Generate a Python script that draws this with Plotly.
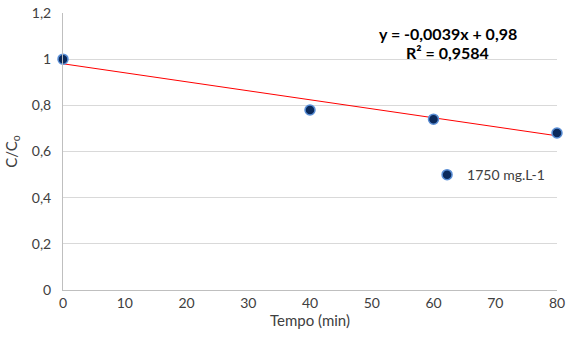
import plotly.graph_objects as go

tempo = [0, 40, 60, 80]
c_c0 = [1.0, 0.78, 0.74, 0.68]
series_name = "1750 mg.L-1"
slope = -0.0039
intercept = 0.98
eq_text = "y = -0,0039x + 0,98"
r2_text = "R² = 0,9584"
x_ticks = [0, 10, 20, 30, 40, 50, 60, 70, 80]
y_ticks = [0, 0.2, 0.4, 0.6, 0.8, 1.0, 1.2]
y_tick_labels = ["0", "0,2", "0,4", "0,6", "0,8", "1", "1,2"]

trend_x = [min(tempo), max(tempo)]
trend_y = [slope * x + intercept for x in trend_x]

fig = go.Figure()
fig.add_trace(go.Scatter(x=trend_x, y=trend_y, mode="lines",
                         line=dict(color="#ff0000", width=1), showlegend=False,
                         hoverinfo="skip", cliponaxis=False))
fig.add_trace(go.Scatter(x=tempo, y=c_c0, mode="markers", name=series_name,
                         cliponaxis=False,
                         marker=dict(color="#0b2a5c", size=10,
                                     line=dict(color="#5b8fd6", width=1.5))))

font = "Lato, 'Open Sans', sans-serif"
fig.update_layout(
    width=566, height=337,
    margin=dict(l=63, r=9, t=13, b=47, autoexpand=False),
    paper_bgcolor="white", plot_bgcolor="white",
    font=dict(family=font, size=14, color="#404040"),
    showlegend=True,
    legend=dict(x=0.737, y=0.415, xanchor="left", yanchor="middle",
                bgcolor="rgba(0,0,0,0)", font=dict(size=14, color="#404040"),
                itemwidth=30, tracegroupgap=0),
    xaxis=dict(range=[0, 80], tickvals=x_ticks, showgrid=False, automargin=False,
               showline=True, linecolor="#bfbfbf", linewidth=1, zeroline=False,
               ticks="", tickfont=dict(size=14, color="#404040"),
               title=dict(text="Tempo (min)", standoff=0,
                          font=dict(size=15, color="#404040"))),
    yaxis=dict(range=[0, 1.2], tickvals=y_ticks, ticktext=y_tick_labels, automargin=False,
               showgrid=True, gridcolor="#d9d9d9", gridwidth=1,
               showline=True, linecolor="#bfbfbf", linewidth=1, zeroline=False,
               ticks="", ticklabelstandoff=8, tickfont=dict(size=14, color="#404040"),
               title=dict(text="C/C<sub>o</sub>", standoff=10,
                          font=dict(size=15, color="#404040"))),
    annotations=[
        dict(x=0.779, y=1.112, xref="paper", yref="y", showarrow=False,
             text="<b>" + eq_text + "</b>", font=dict(size=16, color="#000000"),
             xanchor="center"),
        dict(x=0.779, y=1.03, xref="paper", yref="y", showarrow=False,
             text="<b>" + r2_text + "</b>", font=dict(size=16, color="#000000"),
             xanchor="center"),
    ],
)
fig.write_html("out.html")
